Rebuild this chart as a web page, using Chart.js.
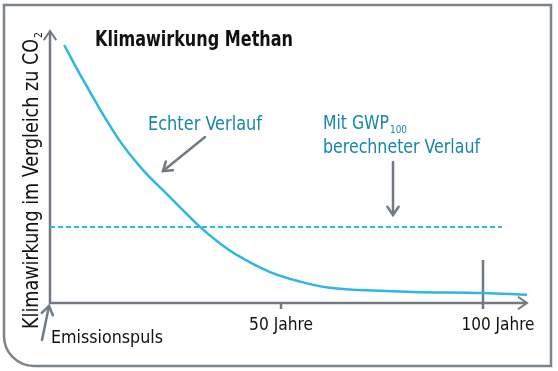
<!DOCTYPE html>
<html>
<head>
<meta charset="utf-8">
<script src="https://cdn.jsdelivr.net/npm/chart.js@4"></script>
<style>
  html, body { margin: 0; padding: 0; background: #fff; }
  #wrap { width: 558px; height: 371px; }
</style>
</head>
<body>
<div id="wrap"><canvas id="methanChart" width="558" height="371"></canvas></div>
<script>
// ── Data ────────────────────────────────────────────────────────
const years  = [-3.7, 1.0, 9.4, 15.8, 22.5, 25.7, 30.0, 34.9, 39.9, 47.3, 54.7, 62.1, 69.6, 82.7, 100, 110.9];
const effect = [95.2, 82.3, 61.3, 49.1, 39.1, 34.3, 28.0, 22.0, 17.0, 11.4, 7.9, 5.6, 4.8, 4.1, 3.7, 3.0];
const gwpYears = [-7.2, 104.7];
const gwpLevel = [28.0, 28.0];
const tickYears = [50, 100];
const tickLabels = ['50 Jahre', '100 Jahre'];

const BLUE = '#2cb7e8';
const TEAL = '#1686ab';
const GREY = '#717a83';
const FONT = "'Liberation Sans Narrow', 'DejaVu Sans Condensed', sans-serif";

// ── Decorations: frame, axes, arrows, texts ─────────────────────
function arrowHead(ctx, x, y, angle, len, spread) {
    ctx.beginPath();
    ctx.moveTo(x - len * Math.cos(angle - spread), y - len * Math.sin(angle - spread));
    ctx.lineTo(x, y);
    ctx.lineTo(x - len * Math.cos(angle + spread), y - len * Math.sin(angle + spread));
    ctx.stroke();
}

function arrow(ctx, x1, y1, x2, y2) {
    ctx.beginPath();
    ctx.moveTo(x1, y1);
    ctx.lineTo(x2, y2);
    ctx.stroke();
    arrowHead(ctx, x2, y2, Math.atan2(y2 - y1, x2 - x1), 10, 0.6);
}

const decor = {
    id: 'decor',
    beforeDatasetsDraw(chart) {
        const ctx = chart.ctx;
        const area = chart.chartArea;
        const xs = chart.scales.x;
        ctx.save();

        // frame with rounded lower left corner
        ctx.strokeStyle = '#7b838b';
        ctx.lineWidth = 2.5;
        ctx.beginPath();
        ctx.moveTo(4, 5);
        ctx.lineTo(551, 5);
        ctx.lineTo(551, 366);
        ctx.lineTo(34, 366);
        ctx.arcTo(4, 366, 4, 336, 30);
        ctx.closePath();
        ctx.stroke();

        // axes
        ctx.strokeStyle = GREY;
        ctx.lineWidth = 2.5;
        ctx.beginPath();
        ctx.moveTo(area.left, area.top);
        ctx.lineTo(area.left, area.bottom);
        ctx.lineTo(area.right, area.bottom);
        ctx.stroke();
        ctx.lineWidth = 2;
        arrowHead(ctx, area.left, area.top - 1, -Math.PI / 2, 11, 0.6);
        arrowHead(ctx, area.right, area.bottom, 0, 11, 0.6);

        // ticks
        const x50 = xs.getPixelForValue(tickYears[0]);
        const x100 = xs.getPixelForValue(tickYears[1]);
        ctx.lineWidth = 2.5;
        ctx.beginPath();
        ctx.moveTo(x50, area.bottom);
        ctx.lineTo(x50, area.bottom + 6);
        ctx.moveTo(x100, area.bottom - 43);
        ctx.lineTo(x100, area.bottom + 6);
        ctx.stroke();
        ctx.restore();
    },
    afterDraw(chart) {
        const ctx = chart.ctx;
        const xs = chart.scales.x;
        ctx.save();

        // pointer arrows
        ctx.strokeStyle = GREY;
        ctx.lineWidth = 2.5;
        ctx.lineCap = 'round';
        arrow(ctx, 205, 137, 163, 171);
        arrow(ctx, 393, 162, 393, 215);
        arrow(ctx, 42, 340, 49, 306);

        // title
        ctx.fillStyle = '#111';
        ctx.textBaseline = 'alphabetic';
        ctx.textAlign = 'left';
        ctx.font = 'bold 21px ' + FONT;
        ctx.fillText('Klimawirkung Methan', 95, 46, 198);

        // annotations (maxWidth squeezes to the narrow face of the original)
        ctx.fillStyle = TEAL;
        ctx.font = '20px ' + FONT;
        ctx.fillText('Echter Verlauf', 148, 130, 114);
        ctx.fillText('Mit GWP', 323, 129, 66);
        ctx.fillText('berechneter Verlauf', 323, 153, 157);
        ctx.font = '11px ' + FONT;
        ctx.fillText('100', 390, 133, 17);

        // x tick labels
        ctx.fillStyle = '#111';
        ctx.font = '18px ' + FONT;
        ctx.textAlign = 'center';
        ctx.fillText(tickLabels[0], xs.getPixelForValue(tickYears[0]), 330, 64);
        ctx.fillText(tickLabels[1], xs.getPixelForValue(tickYears[1]) + 15, 330, 73);
        ctx.textAlign = 'left';
        ctx.fillText('Emissionspuls', 51, 343, 112);

        // y axis title
        ctx.translate(38, 329);
        ctx.rotate(-Math.PI / 2);
        ctx.font = '21px ' + FONT;
        ctx.fillText('Klimawirkung im Vergleich zu CO', 0, 0, 290);
        ctx.font = '11px ' + FONT;
        ctx.fillText('2', 291, 4, 6);
        ctx.restore();
    }
};

// ── Chart ───────────────────────────────────────────────────────
new Chart(document.getElementById('methanChart'), {
    type: 'line',
    data: {
        datasets: [
            {
                label: 'Echter Verlauf',
                data: years.map((x, i) => ({ x: x, y: effect[i] })),
                borderColor: BLUE,
                borderWidth: 2.5,
                pointRadius: 0,
                tension: 0.4,
                fill: false
            },
            {
                label: 'GWP100',
                data: gwpYears.map((x, i) => ({ x: x, y: gwpLevel[i] })),
                borderColor: BLUE,
                borderWidth: 2,
                borderDash: [5, 3],
                pointRadius: 0,
                fill: false
            }
        ]
    },
    options: {
        responsive: false,
        animation: false,
        events: [],
        layout: { padding: { left: 50, right: 31, top: 32, bottom: 68 } },
        plugins: {
            legend: { display: false },
            tooltip: { enabled: false }
        },
        scales: {
            x: { type: 'linear', display: false, min: -7.2, max: 110.9 },
            y: { type: 'linear', display: false, min: 0, max: 100 }
        }
    },
    plugins: [decor]
});
</script>
</body>
</html>
